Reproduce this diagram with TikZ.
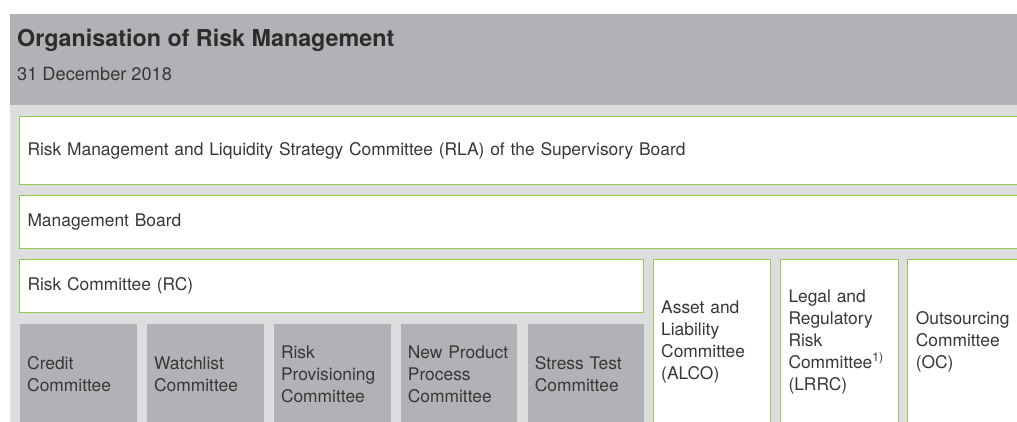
\documentclass[tikz,border=0pt]{standalone}
\usepackage{fontspec}
\setmainfont{TeX Gyre Heros}
\usepackage{tikz}
\usetikzlibrary{positioning}
\definecolor{headgray}{RGB}{177, 178, 181}
\definecolor{bodygray}{RGB}{220, 221, 223}
\definecolor{green}{RGB}{146, 204, 78}
\definecolor{txt}{RGB}{55, 55, 55}
\tikzstyle{title} = [inner sep=0pt, anchor=base west, text=txt!80!black, font=\bfseries\fontsize{23.3}{27}\selectfont]
\tikzstyle{date} = [inner sep=0pt, anchor=base west, text=txt, font=\fontsize{18.2}{22}\selectfont]
\tikzstyle{board} = [rectangle, draw=green, line width=1pt, fill=white, text=txt, align=left, inner xsep=8pt, inner ysep=0pt, font=\fontsize{17.4}{22}\selectfont]
\tikzstyle{sub} = [rectangle, fill=headgray, text=txt, align=left, inner xsep=7pt, inner ysep=0pt, minimum height=100pt, text width=102.5pt, font=\fontsize{17.4}{22}\selectfont]

\begin{document}
\begin{tikzpicture}[x=1pt, y=1pt]

\clip (0,0) rectangle (1017,-421);

% background ==============================
\fill[headgray] (10,-14) rectangle (1030,-105);
\fill[bodygray] (10,-105) rectangle (1030,-430);

% heading
\node[title] (head) at (17,-46) {Organisation of Risk Management};
\node[date] (date) at (17,-80) {31 December 2018};

% boards
\node[board, anchor=north west, minimum height=68pt, text width=995pt] (rla) at (19,-116) {Risk Management and Liquidity Strategy Committee (RLA) of the Supervisory Board};
\node[board, below=10pt of rla.south west, anchor=north west, minimum height=53pt, text width=995pt] (mb) {Management Board};
\node[board, below=10pt of mb.south west, anchor=north west, minimum height=53pt, text width=608pt] (rc) {Risk Committee (RC)};

% committees below the RC
\node[sub, below=11pt of rc.south west, anchor=north west, xshift=1pt] (credit) {Credit\\Committee};
\node[sub, right=10pt of credit] (watch) {Watchlist\\Committee};
\node[sub, right=10pt of watch] (prov) {Risk\\Provisioning\\Committee};
\node[sub, right=10pt of prov] (npp) {New Product\\Process\\Committee};
\node[sub, right=10pt of npp] (stress) {Stress Test\\Committee};

% further committees
\node[board, right=8.7pt of rc.north east, anchor=north west, minimum height=164pt, text width=101.6pt] (alco) {Asset and\\Liability\\Committee\\(ALCO)};
\node[board, right=8.7pt of alco, minimum height=164pt, text width=101.6pt] (lrrc) {Legal and\\Regulatory\\Risk\\Committee\textsuperscript{1)}\\(LRRC)};
\node[board, right=8.7pt of lrrc, minimum height=164pt, text width=114pt] (oc) {Outsourcing\\Committee\\(OC)};

\end{tikzpicture}
\end{document}
